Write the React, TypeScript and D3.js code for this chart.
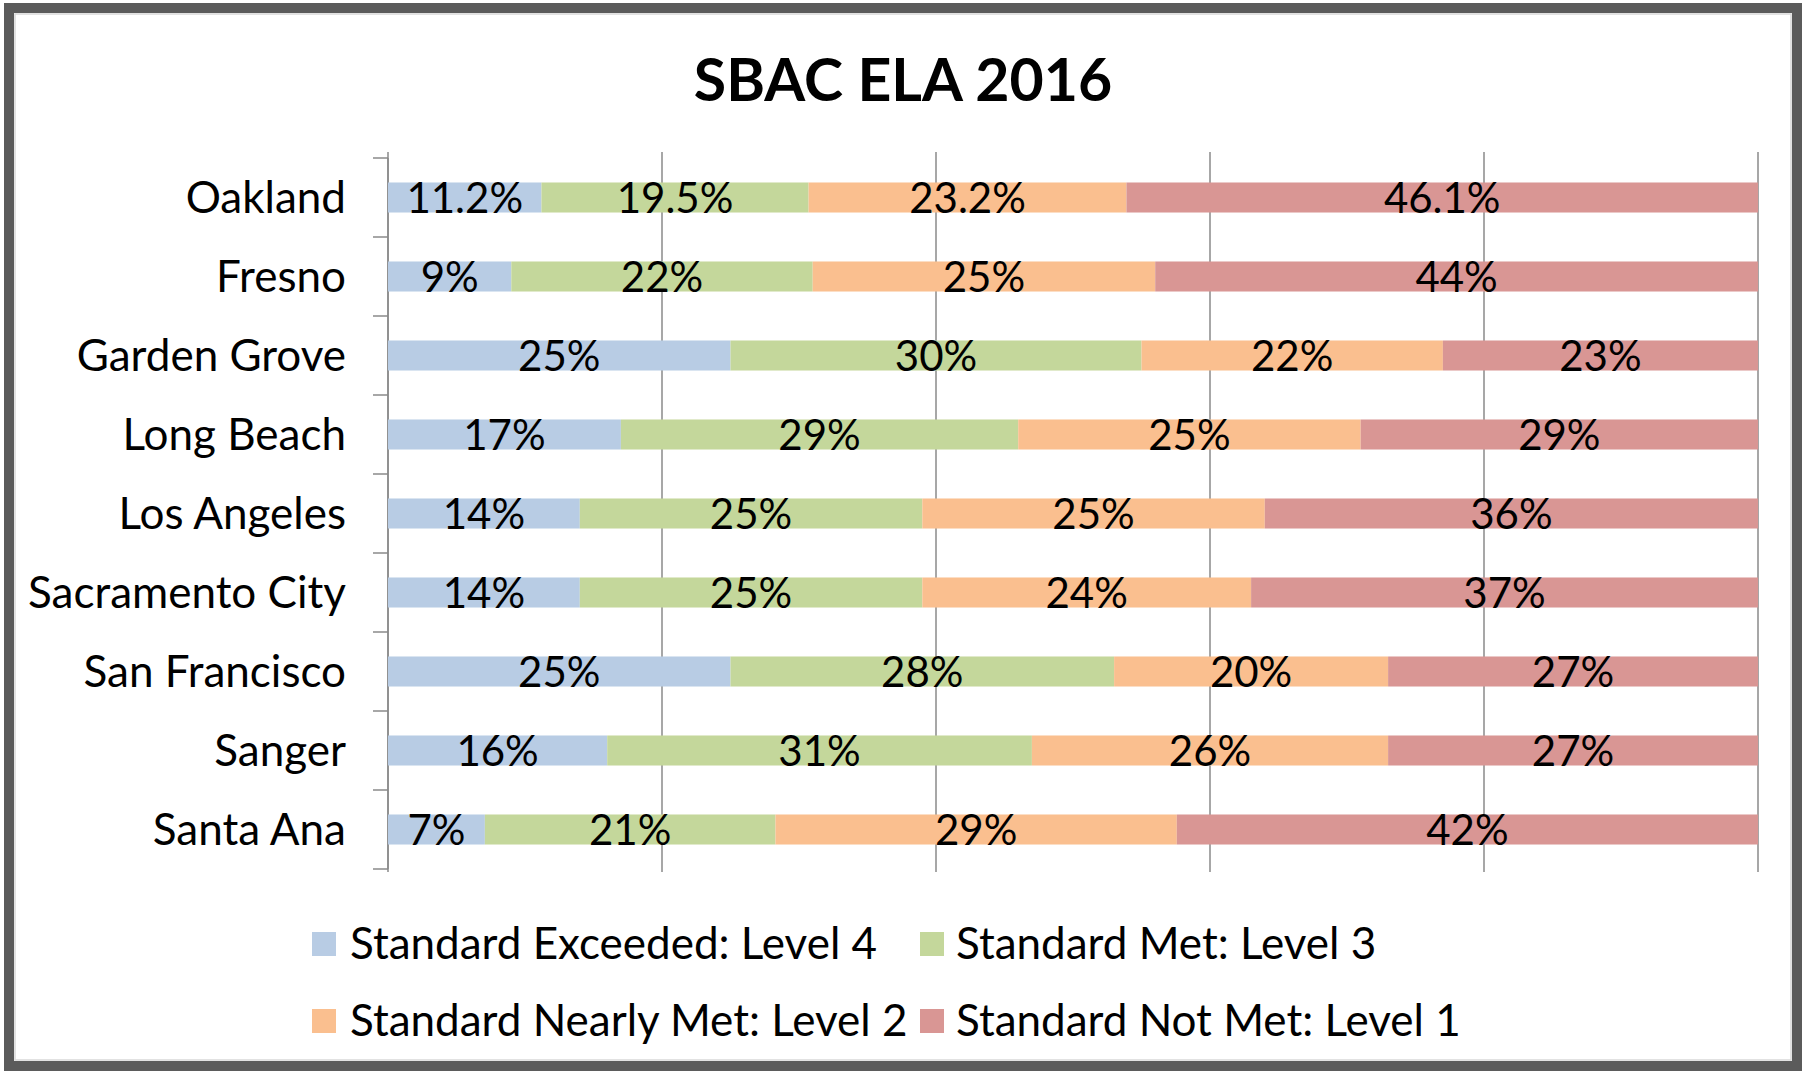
import React from 'react'
import { scaleBand, scaleLinear, sum } from 'd3'

// districts, top to bottom
const districts = [
  'Oakland', 'Fresno', 'Garden Grove', 'Long Beach', 'Los Angeles',
  'Sacramento City', 'San Francisco', 'Sanger', 'Santa Ana',
]

const levels = [
  'Standard Exceeded: Level 4',
  'Standard Met: Level 3',
  'Standard Nearly Met: Level 2',
  'Standard Not Met: Level 1',
]

// percent per level, one array per district (same order as levels)
const level4 = [11.2, 9, 25, 17, 14, 14, 25, 16, 7]
const level3 = [19.5, 22, 30, 29, 25, 25, 28, 31, 21]
const level2 = [23.2, 25, 22, 25, 25, 24, 20, 26, 29]
const level1 = [46.1, 44, 23, 29, 36, 37, 27, 27, 42]

const gridTicks = [0, 0.2, 0.4, 0.6, 0.8, 1]

const colors = ['#b8cce4', '#c4d79b', '#fabf8f', '#d99694']

const W = 1810
const H = 1073
const FONT = "Lato, 'Open Sans', sans-serif"

export default function App() {
  const series = [level4, level3, level2, level1]

  const plot = { left: 388, right: 1758, top: 158, bottom: 869 }

  const x = scaleLinear().domain([0, 1]).range([plot.left, plot.right])
  const y = scaleBand<string>()
    .domain(districts)
    .range([plot.top, plot.bottom])
    .paddingInner(0.62)
    .paddingOuter(0.31)

  const step = y.step()

  // 100% stacked: normalise each row by its total
  const rows = districts.map((name, i) => {
    const vals = series.map(s => s[i])
    const total = sum(vals)
    let acc = 0
    const segs = vals.map((v, k) => {
      const x0 = acc / total
      acc += v
      return { k, v, x0, x1: acc / total }
    })
    return { name, segs }
  })

  const legendRows = [
    [0, 1],
    [2, 3],
  ]
  const legendX = [[312, 350], [920, 956]]
  const legendY = [944, 1021]

  return (
    <svg width={W} height={H} style={{ position: 'absolute', left: 0, top: 0, background: '#fff' }}>
      <rect x={0} y={0} width={W} height={H} fill="#fff" />
      {/* outer frame */}
      <rect x={9} y={8} width={1788} height={1058} fill="none" stroke="#5b5b5b" strokeWidth={10} />
      <rect x={15} y={14} width={1776} height={1046} fill="none" stroke="#d9d9d9" strokeWidth={1.5} />

      <text x={903} y={101} textAnchor="middle" fontFamily={FONT} fontWeight={700} fontSize={59} fill="#000">
        SBAC ELA 2016
      </text>

      {/* vertical gridlines */}
      {gridTicks.map(t => (
        <line key={t} x1={x(t)} x2={x(t)} y1={152} y2={872} stroke="#8a8a8a" strokeWidth={1.5} />
      ))}

      {/* category axis */}
      <line x1={plot.left} x2={plot.left} y1={plot.top} y2={plot.bottom} stroke="#8a8a8a" strokeWidth={1.5} />
      {districts.concat(['']).map((d, i) => (
        <line key={i} x1={plot.left - 15} x2={plot.left} y1={plot.top + i * step} y2={plot.top + i * step}
          stroke="#8a8a8a" strokeWidth={1.5} />
      ))}

      {rows.map(r => {
        const by = y(r.name) as number
        const bh = y.bandwidth()
        const cy = by + bh / 2
        return (
          <g key={r.name}>
            <text x={346} y={cy + 15} textAnchor="end" fontFamily={FONT} fontSize={44} fill="#000">
              {r.name}
            </text>
            {r.segs.map(s => (
              <rect key={s.k} x={x(s.x0)} y={by} width={x(s.x1) - x(s.x0)} height={bh} fill={colors[s.k]} />
            ))}
            {r.segs.map(s => (
              <text key={'t' + s.k} x={(x(s.x0) + x(s.x1)) / 2} y={cy + 15} textAnchor="middle"
                fontFamily={FONT} fontSize={42} fill="#000">
                {s.v + '%'}
              </text>
            ))}
          </g>
        )
      })}

      {/* legend */}
      {legendRows.map((row, ri) =>
        row.map((k, ci) => (
          <g key={k}>
            <rect x={legendX[ci][0]} y={legendY[ri] - 12} width={24} height={24} fill={colors[k]} />
            <text x={legendX[ci][1]} y={legendY[ri] + 15} fontFamily={FONT} fontSize={44} fill="#000">
              {levels[k]}
            </text>
          </g>
        ))
      )}
    </svg>
  )
}
